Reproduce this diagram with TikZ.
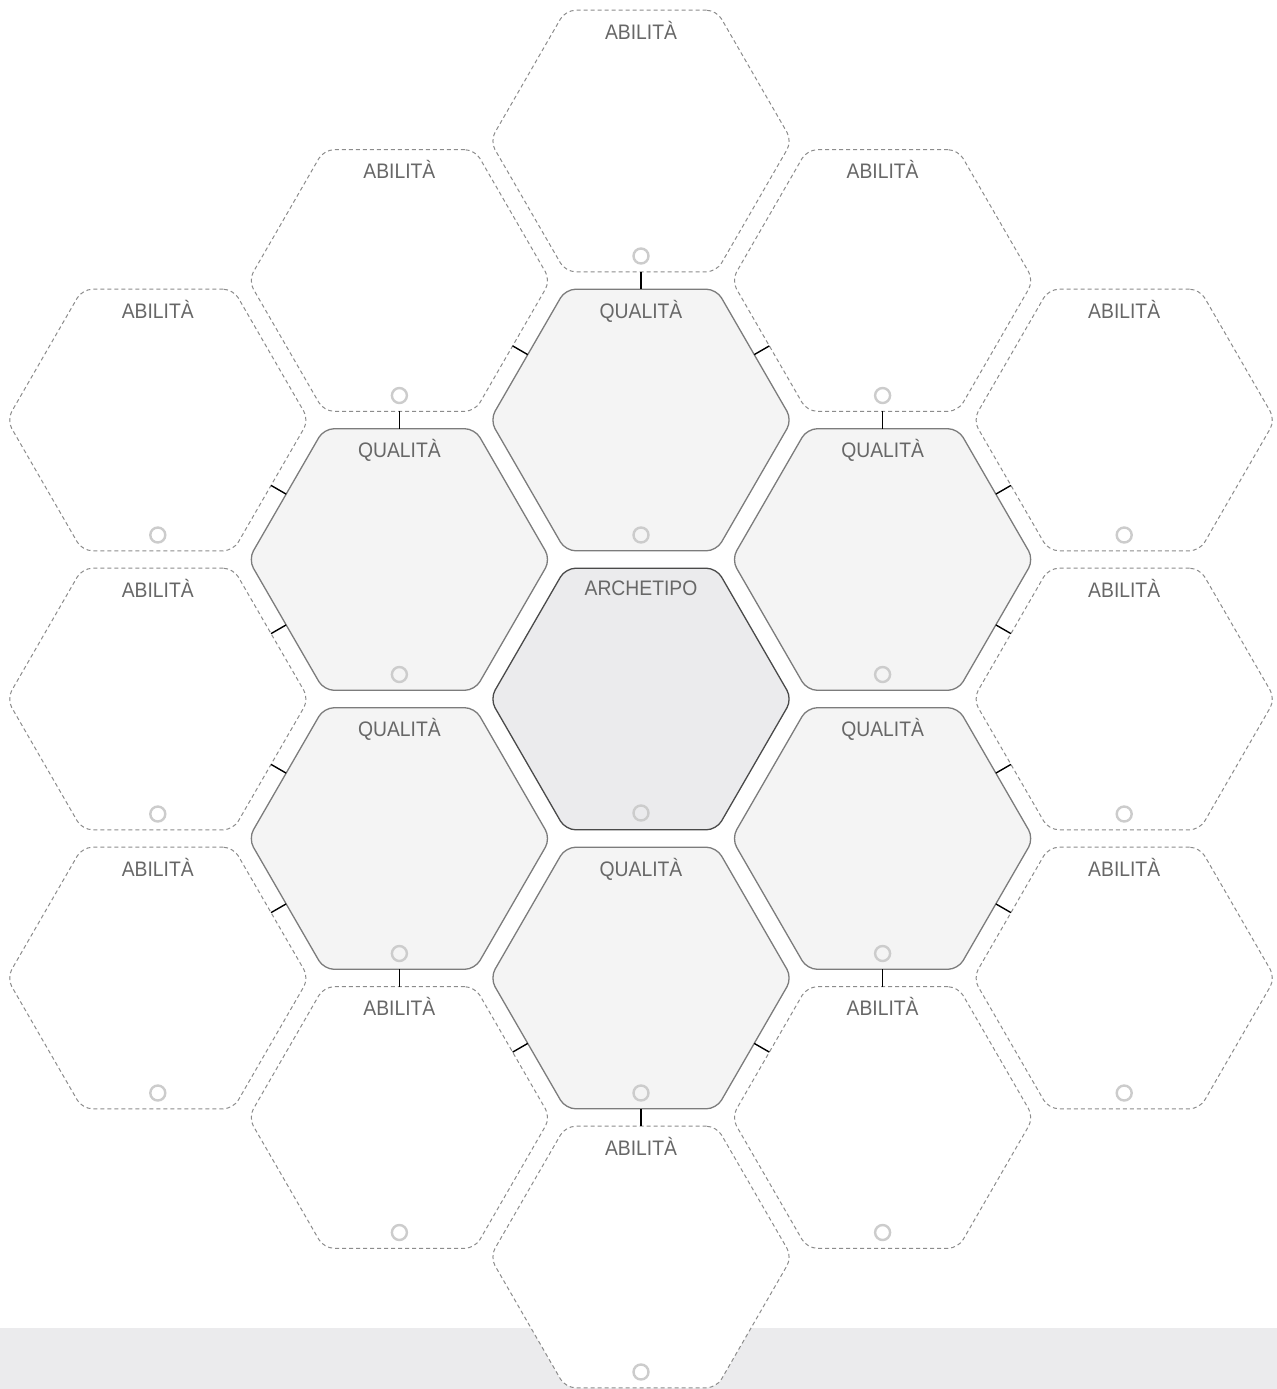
\documentclass[tikz,border=0pt]{standalone}
\usepackage{fontspec}
\setmainfont{Liberation Sans}[FakeStretch=0.92]
\usetikzlibrary{calc,shapes.geometric}
\definecolor{HexInk}{HTML}{676767}
\definecolor{HexQualFill}{HTML}{F4F4F4}
\definecolor{HexQualLine}{HTML}{7C7C7C}
\definecolor{HexArchFill}{HTML}{EBEBED}
\definecolor{HexArchLine}{HTML}{4A4A4A}
\definecolor{HexAbilLine}{HTML}{8C8C8C}
\definecolor{HexDot}{HTML}{CCCCCC}
\definecolor{HexBar}{HTML}{EBEBED}
\tikzset{
  hexcell/.style={
    regular polygon,
    regular polygon sides=6,
    minimum size=151pt,
    inner sep=0pt,
    outer sep=0pt,
    rounded corners=5pt
  },
  abilita/.style={
    hexcell,
    draw=HexAbilLine,
    fill=white,
    line width=0.5pt,
    dash pattern=on 2pt off 1.5pt
  },
  qualita/.style={
    hexcell,
    draw=HexQualLine,
    fill=HexQualFill,
    line width=0.65pt
  },
  archetipo/.style={
    hexcell,
    draw=HexArchLine,
    fill=HexArchFill,
    line width=0.65pt
  },
  tag/.style={
    anchor=base,
    font=\fontsize{10.5}{12}\selectfont,
    text=HexInk,
    inner sep=0pt
  },
  dot/.style={
    circle,
    draw=HexDot,
    line width=1.2pt,
    minimum size=7.5pt,
    inner sep=0pt
  },
  link/.style={
    draw=black,
    line width=0.7pt
  }
}

\begin{document}
\begin{tikzpicture}[x=0.5pt,y=-0.5pt]
  \useasboundingbox (0,0) rectangle (1277,1389);

  % Grey band along the foot of the sheet.
  \fill[HexBar] (0,1328) rectangle (1277,1389);

  % Outer ring: the twelve ability cells.
  \node[abilita] (a-n)  at (641,141) {};
  \node[abilita] (a-nw) at (399.4,280.5) {};
  \node[abilita] (a-ne) at (882.6,280.5) {};
  \node[abilita] (a-w1) at (157.8,420) {};
  \node[abilita] (a-e1) at (1124.2,420) {};
  \node[abilita] (a-w2) at (157.8,699) {};
  \node[abilita] (a-e2) at (1124.2,699) {};
  \node[abilita] (a-w3) at (157.8,978) {};
  \node[abilita] (a-e3) at (1124.2,978) {};
  \node[abilita] (a-sw) at (399.4,1117.5) {};
  \node[abilita] (a-se) at (882.6,1117.5) {};
  \node[abilita] (a-s)  at (641,1257) {};

  % Inner ring: the six quality cells around the archetype.
  \node[qualita] (q-n)  at (641,420) {};
  \node[qualita] (q-nw) at (399.4,559.5) {};
  \node[qualita] (q-ne) at (882.6,559.5) {};
  \node[qualita] (q-sw) at (399.4,838.5) {};
  \node[qualita] (q-se) at (882.6,838.5) {};
  \node[qualita] (q-s)  at (641,978) {};

  \node[archetipo] (arch) at (641,699) {};

  % Headings sit near the top edge of every cell.
  \node[tag] (a-n-tag)  at ($(a-n)+(0,-102)$)  {ABILITÀ};
  \node[tag] (a-nw-tag) at ($(a-nw)+(0,-102)$) {ABILITÀ};
  \node[tag] (a-ne-tag) at ($(a-ne)+(0,-102)$) {ABILITÀ};
  \node[tag] (a-w1-tag) at ($(a-w1)+(0,-102)$) {ABILITÀ};
  \node[tag] (a-e1-tag) at ($(a-e1)+(0,-102)$) {ABILITÀ};
  \node[tag] (a-w2-tag) at ($(a-w2)+(0,-102)$) {ABILITÀ};
  \node[tag] (a-e2-tag) at ($(a-e2)+(0,-102)$) {ABILITÀ};
  \node[tag] (a-w3-tag) at ($(a-w3)+(0,-102)$) {ABILITÀ};
  \node[tag] (a-e3-tag) at ($(a-e3)+(0,-102)$) {ABILITÀ};
  \node[tag] (a-sw-tag) at ($(a-sw)+(0,-102)$) {ABILITÀ};
  \node[tag] (a-se-tag) at ($(a-se)+(0,-102)$) {ABILITÀ};
  \node[tag] (a-s-tag)  at ($(a-s)+(0,-102)$)  {ABILITÀ};
  \node[tag] (q-n-tag)  at ($(q-n)+(0,-102)$)  {QUALITÀ};
  \node[tag] (q-nw-tag) at ($(q-nw)+(0,-102)$) {QUALITÀ};
  \node[tag] (q-ne-tag) at ($(q-ne)+(0,-102)$) {QUALITÀ};
  \node[tag] (q-sw-tag) at ($(q-sw)+(0,-102)$) {QUALITÀ};
  \node[tag] (q-se-tag) at ($(q-se)+(0,-102)$) {QUALITÀ};
  \node[tag] (q-s-tag)  at ($(q-s)+(0,-102)$)  {QUALITÀ};
  \node[tag] (arch-tag) at ($(arch)+(0,-104)$) {ARCHETIPO};

  % Small empty rings near the bottom edge of every cell.
  \node[dot] (a-n-dot)  at ($(a-n)+(0,115)$)  {};
  \node[dot] (a-nw-dot) at ($(a-nw)+(0,115)$) {};
  \node[dot] (a-ne-dot) at ($(a-ne)+(0,115)$) {};
  \node[dot] (a-w1-dot) at ($(a-w1)+(0,115)$) {};
  \node[dot] (a-e1-dot) at ($(a-e1)+(0,115)$) {};
  \node[dot] (a-w2-dot) at ($(a-w2)+(0,115)$) {};
  \node[dot] (a-e2-dot) at ($(a-e2)+(0,115)$) {};
  \node[dot] (a-w3-dot) at ($(a-w3)+(0,115)$) {};
  \node[dot] (a-e3-dot) at ($(a-e3)+(0,115)$) {};
  \node[dot] (a-sw-dot) at ($(a-sw)+(0,115)$) {};
  \node[dot] (a-se-dot) at ($(a-se)+(0,115)$) {};
  \node[dot] (a-s-dot)  at ($(a-s)+(0,115)$)  {};
  \node[dot] (q-n-dot)  at ($(q-n)+(0,115)$)  {};
  \node[dot] (q-nw-dot) at ($(q-nw)+(0,115)$) {};
  \node[dot] (q-ne-dot) at ($(q-ne)+(0,115)$) {};
  \node[dot] (q-sw-dot) at ($(q-sw)+(0,115)$) {};
  \node[dot] (q-se-dot) at ($(q-se)+(0,115)$) {};
  \node[dot] (q-s-dot)  at ($(q-s)+(0,115)$)  {};
  \node[dot] (arch-dot) at ($(arch)+(0,114)$) {};

  % Each quality cell ties to its three outward ability cells.
  \draw[link] (q-n) -- (a-n);
  \draw[link] (q-n) -- (a-nw);
  \draw[link] (q-n) -- (a-ne);
  \draw[link] (q-nw) -- (a-nw);
  \draw[link] (q-nw) -- (a-w1);
  \draw[link] (q-nw) -- (a-w2);
  \draw[link] (q-ne) -- (a-ne);
  \draw[link] (q-ne) -- (a-e1);
  \draw[link] (q-ne) -- (a-e2);
  \draw[link] (q-sw) -- (a-w2);
  \draw[link] (q-sw) -- (a-w3);
  \draw[link] (q-sw) -- (a-sw);
  \draw[link] (q-se) -- (a-e2);
  \draw[link] (q-se) -- (a-e3);
  \draw[link] (q-se) -- (a-se);
  \draw[link] (q-s) -- (a-sw);
  \draw[link] (q-s) -- (a-se);
  \draw[link] (q-s) -- (a-s);
\end{tikzpicture}
\end{document}
